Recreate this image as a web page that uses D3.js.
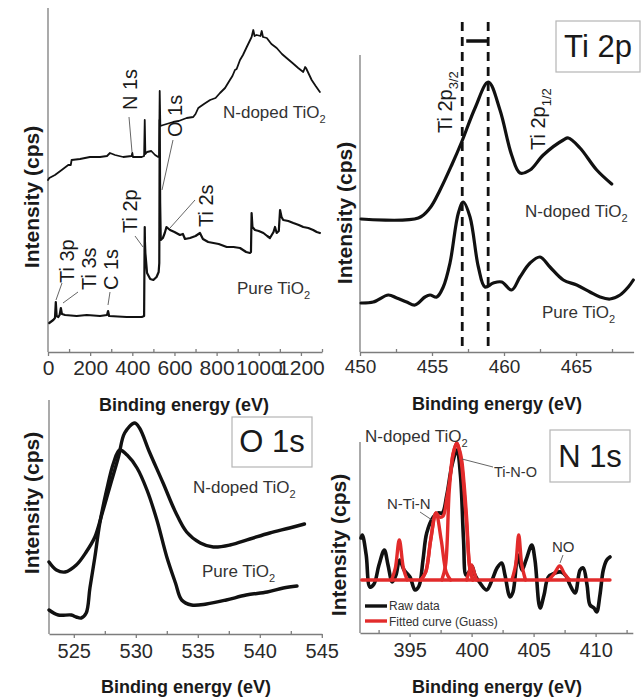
<!DOCTYPE html>
<html>
<head>
<meta charset="utf-8">
<script src="https://cdn.jsdelivr.net/npm/d3@7"></script>
<style>
  body { margin: 0; background: #fff; }
  svg { display: block; }
</style>
</head>
<body>
<svg id="fig" width="641" height="698"></svg>
<script>
// ---- data: [binding energy (eV), intensity (a.u.)] ----

// survey spectra (top left)
var surveyNdoped = [[0,172],[6,174],[33,177],[65,182],[96,187],[108,187],[112,192],[152,193],[199,195],[247,195],[280,196],[294,199],[318,197],[357,195],[397,196],[400,199],[403,195],[421,195],[445,195],[456,196],[459,232],[462,198],[470,200],[490,201],[508,197],[523,195],[527,196],[530,261],[533,226],[547,227],[594,230],[620,231],[658,234],[689,235],[700,238],[713,244],[740,248],[769,252],[795,254],[816,259],[840,264],[863,272],[875,276],[887,282],[895,283],[911,292],[925,297],[943,305],[966,315],[974,322],[980,316],[990,317],[1008,316],[1014,321],[1020,315],[1038,314],[1060,308],[1085,304],[1110,298],[1132,294],[1160,289],[1187,284],[1211,280],[1220,285],[1224,284],[1251,272],[1270,266],[1290,260]];
var surveyPure = [[6,29],[25,32],[33,34],[37,50],[41,36],[49,35],[55,37],[61,44],[66,38],[81,37],[136,36],[184,37],[247,36],[280,37],[285,41],[290,36],[373,35],[445,35],[456,36],[458,100],[459,125],[460,110],[462,99],[470,79],[485,73],[500,72],[515,75],[525,80],[528,89],[530,232],[532,150],[535,112],[545,114],[554,119],[562,125],[579,122],[600,120],[626,117],[640,118],[650,113],[674,114],[700,116],[721,119],[735,113],[760,110],[785,109],[810,108],[848,105],[880,105],[911,104],[940,100],[958,99],[963,100],[966,139],[970,125],[982,122],[1000,121],[1022,119],[1040,116],[1053,114],[1070,120],[1077,125],[1085,119],[1095,121],[1101,142],[1108,135],[1116,132],[1140,131],[1164,129],[1190,127],[1211,125],[1235,124],[1258,122],[1275,120],[1290,119]];

// Ti 2p (top right)
var ti2pNdoped = [[450.07,133],[454.05,134],[454.86,144],[455.56,162],[456.37,187],[457.06,210],[457.99,244],[458.91,270],[459.72,242],[460.53,197],[461.11,179],[461.81,182],[462.73,197],[464.12,212],[464.47,214],[465.28,204],[466.44,182],[467.48,168]];
var ti2pPure = [[450.07,49],[450.92,50],[451.97,57],[452.55,54],[453.24,50],[453.82,47],[454.51,55],[454.86,57],[455.33,55],[455.78,65],[456.25,89],[456.83,139],[457.17,150],[457.64,135],[458.22,85],[458.68,65],[459.26,69],[459.84,70],[460.53,62],[461.11,75],[461.81,89],[462.5,95],[463.19,85],[464.12,72],[465.05,67],[465.97,60],[466.67,55],[467.36,53],[468.06,57],[468.63,65],[468.98,72]];
var ti2pPeaks = [457.1, 458.9];   // dashed guide lines

// O 1s (bottom left)
var o1sNdoped = [[523.0,72],[523.6,64],[524.3,62],[525.2,69],[526.0,82],[526.7,97],[527.25,119],[527.9,147],[528.6,177],[529.1,201],[529.9,211],[530.3,206],[531.1,182],[532.2,151],[533.2,122],[534.1,102],[535.2,91],[536.25,87],[537.6,89],[539.2,95],[540.8,101],[542.4,106],[543.6,110]];
var o1sPure = [[523.0,24],[523.75,19],[524.8,19],[525.2,17],[525.6,16],[526.0,21],[526.3,46],[526.7,77],[527.1,111],[527.65,144],[528.2,171],[528.7,184],[529.3,179],[530.1,166],[530.9,144],[531.7,114],[532.5,77],[533.2,51],[533.7,34],[534.5,29],[535.7,30],[537.3,34],[538.9,39],[540.6,42],[541.9,46],[543.0,48]];

// N 1s (bottom right)
var n1sRaw = [[391.08,42],[391.19,45],[391.5,25],[391.8,-7],[392.13,-4],[392.53,15],[392.96,30],[393.26,15],[393.6,-2],[393.9,5],[394.19,20],[394.55,10],[395.03,3],[395.44,-10],[395.76,-6],[396.08,20],[396.38,47],[396.91,63],[397.31,67],[397.64,67],[398.0,85],[398.42,115],[398.82,130],[399.1,105],[399.35,40],[399.55,5],[399.79,8],[400.03,14],[400.27,5],[400.68,-3],[401.22,-10],[401.65,0],[402.05,12],[402.43,17],[402.69,5],[403.1,-17],[403.34,-12],[403.74,25],[404.06,10],[404.39,20],[404.85,35],[405.11,20],[405.52,-28],[405.84,-15],[406.19,3],[406.73,7],[407.21,8],[407.61,4],[407.94,-5],[408.35,-13],[408.75,10],[409.0,12],[409.31,-5],[409.55,-25],[409.87,-28],[410.09,-32],[410.35,-15],[410.62,10],[410.9,20],[411.16,23]];
var n1sBaseline = [[391.14,0],[411.16,0]];
var n1sPeakA = [[393.55,0],[393.85,12],[394.17,40],[394.5,12],[394.8,0]];
var n1sPeakNTiN = [[395.9,0],[396.3,8],[396.7,40],[397.13,67],[397.55,40],[397.95,8],[398.3,0]];
var n1sPeakTiNO = [[397.6,0],[397.9,15],[398.2,90],[398.5,125],[398.8,137],[399.0,130],[399.2,115],[399.6,55],[399.85,12],[400.1,0]];
var n1sPeakD = [[399.6,0],[399.8,8],[400.0,15],[400.2,8],[400.4,0]];
var n1sPeakE = [[403.25,0],[403.55,15],[403.8,45],[404.05,15],[404.35,0]];
var n1sPeakNO = [[406.2,0],[406.65,6],[407.1,14],[407.5,6],[407.9,0]];
var n1sEnvelope = [[395.9,0],[396.3,8],[396.7,40],[397.13,67],[397.4,63],[397.7,64],[398.0,82],[398.26,102],[398.5,126],[398.8,137],[399.0,131],[399.2,120],[399.4,95],[399.6,62],[399.85,13],[400.1,0]];

// tick values
var surveyTicks = [0, 200, 400, 600, 800, 1000, 1200];
var surveyMinor = [100, 300, 500, 700, 900, 1100, 1300];
var ti2pTicks = [450, 455, 460, 465];
var ti2pMinor = [452.5, 457.5, 462.5, 467.5];
var o1sTicks = [525, 530, 535, 540, 545];
var o1sMinor = [527.5, 532.5, 537.5, 542.5];
var n1sTicks = [395, 400, 405, 410];
var n1sMinor = [392.5, 397.5, 402.5, 407.5, 412.5];

// --------------------------------------------------
var FONT = '"Liberation Sans", Arial, Helvetica, sans-serif';
var AXIS = "#7d7d7d";
var RED = "#e22b2b";

var svg = d3.select("#fig");

// x axis with labelled ticks going down and small minor ticks going up
function bottomAxis(x, yPos, major, minor, size, pad) {
    var g = svg.append("g")
        .attr("transform", "translate(0," + yPos + ")")
        .call(d3.axisBottom(x).tickValues(major).tickSize(4)
            .tickSizeOuter(0).tickPadding(pad).tickFormat(d3.format("d")));
    g.select(".domain").attr("stroke", AXIS).attr("stroke-width", 1.3);
    g.selectAll(".tick line").attr("stroke", AXIS).attr("stroke-width", 1.3);
    g.selectAll(".tick text")
        .attr("fill", "#2a2a2a")
        .attr("font-size", size)
        .attr("font-family", FONT);

    var m = svg.append("g")
        .attr("transform", "translate(0," + yPos + ")")
        .call(d3.axisBottom(x).tickValues(minor).tickSize(-3).tickFormat(""));
    m.select(".domain").remove();
    m.selectAll(".tick line").attr("stroke", AXIS).attr("stroke-width", 1.3);
}

function leftLine(x, y) {
    svg.append("line")
        .attr("x1", x.range()[0]).attr("x2", x.range()[0])
        .attr("y1", y.range()[1]).attr("y2", y.range()[0])
        .attr("stroke", AXIS).attr("stroke-width", 1.3);
}

function plotLine(data, x, y, curve, color, width) {
    var line = d3.line()
        .x(function(d) { return x(d[0]); })
        .y(function(d) { return y(d[1]); })
        .curve(curve);
    svg.append("path")
        .datum(data)
        .attr("d", line)
        .attr("fill", "none")
        .attr("stroke", color)
        .attr("stroke-width", width)
        .attr("stroke-linejoin", "round")
        .attr("stroke-linecap", "round");
}

function label(x, y, str, size, opts) {
    opts = opts || {};
    var t = svg.append("text")
        .attr("font-family", FONT)
        .attr("font-size", size)
        .attr("fill", opts.fill || "#1a1a1a")
        .attr("font-weight", opts.bold ? "bold" : "normal")
        .attr("text-anchor", opts.anchor || "start")
        .attr("transform", "translate(" + x + "," + y + ")" + (opts.rot ? " rotate(-90)" : ""))
        .text(str);
    if (opts.sub) {
        t.append("tspan")
            .attr("font-size", size * 0.65)
            .attr("dy", size * 0.28)
            .text(opts.sub);
    }
    return t;
}

function pointer(x1, y1, x2, y2) {
    svg.append("line")
        .attr("x1", x1).attr("y1", y1).attr("x2", x2).attr("y2", y2)
        .attr("stroke", "#555").attr("stroke-width", 0.9);
}

function boxTitle(x, y, w, h, str) {
    svg.append("rect")
        .attr("x", x).attr("y", y).attr("width", w).attr("height", h)
        .attr("fill", "#fff").attr("stroke", "#b5b5b5").attr("stroke-width", 1.2);
    label(x + w / 2, y + h - 15, str, 31, { anchor: "middle" });
}

// ---------------- top left: survey ----------------
var x1 = d3.scaleLinear().domain([0, 1300]).range([48, 322]);
var y1 = d3.scaleLinear().domain([0, 344]).range([352, 8]);

leftLine(x1, y1);
bottomAxis(x1, 352, surveyTicks, surveyMinor, 21, 4);
plotLine(surveyNdoped, x1, y1, d3.curveLinear, "#111", 1.8);
plotLine(surveyPure, x1, y1, d3.curveLinear, "#111", 2.2);

label(137, 110, "N 1s", 20, { rot: true });
label(182, 137, "O 1s", 20, { rot: true });
label(213, 227, "Ti 2s", 20, { rot: true });
label(137, 233, "Ti 2p", 20, { rot: true });
label(74, 283, "Ti 3p", 20, { rot: true });
label(96, 290, "Ti 3s", 20, { rot: true });
label(118, 290, "C 1s", 20, { rot: true });
pointer(129, 117, 132, 152);
pointer(173, 140, 162, 190);
pointer(195, 200, 170, 228);
pointer(135, 236, 143, 247);
pointer(62, 283, 56, 300);
pointer(78, 292, 63, 303);
pointer(110, 292, 108, 305);

label(223, 118, "N-doped TiO", 17, { sub: "2", fill: "#333" });
label(237, 294, "Pure TiO", 17, { sub: "2", fill: "#333" });

label(0, 0, "Intensity (cps)", 21, { bold: true, anchor: "middle" })
    .attr("transform", "translate(39,197) rotate(-90)");
label(184, 411, "Binding energy (eV)", 18, { bold: true, anchor: "middle" });

// ---------------- top right: Ti 2p ----------------
var x2 = d3.scaleLinear().domain([450, 469]).range([360, 633.6]);
var y2 = d3.scaleLinear().domain([0, 297]).range([352, 55]);

leftLine(x2, y2);
bottomAxis(x2, 352, ti2pTicks, ti2pMinor, 19, 4);

svg.selectAll(".peakline")
    .data(ti2pPeaks)
    .enter()
    .append("line")
    .attr("class", "peakline")
    .attr("x1", function(d) { return x2(d); })
    .attr("x2", function(d) { return x2(d); })
    .attr("y1", 22).attr("y2", 352)
    .attr("stroke", "#111").attr("stroke-width", 2.8)
    .attr("stroke-dasharray", "9,6");

// spin-orbit shift bar between the two guide lines
svg.append("line")
    .attr("x1", x2(ti2pPeaks[0]) + 4).attr("x2", x2(ti2pPeaks[1]) - 1)
    .attr("y1", 41).attr("y2", 41)
    .attr("stroke", "#111").attr("stroke-width", 3.5);

plotLine(ti2pNdoped, x2, y2, d3.curveCatmullRom, "#111", 3.2);
plotLine(ti2pPure, x2, y2, d3.curveCatmullRom, "#111", 3.2);

label(452, 133, "Ti 2p", 20, { rot: true, sub: "3/2" });
label(545, 150, "Ti 2p", 20, { rot: true, sub: "1/2" });
label(525, 217, "N-doped TiO", 17, { sub: "2", fill: "#333" });
label(542, 318, "Pure TiO", 17, { sub: "2", fill: "#333" });
boxTitle(556, 21, 84, 51, "Ti 2p");

label(0, 0, "Intensity (cps)", 21, { bold: true, anchor: "middle" })
    .attr("transform", "translate(352,213) rotate(-90)");
label(497, 410, "Binding energy (eV)", 18, { bold: true, anchor: "middle" });

// ---------------- bottom left: O 1s ----------------
var x3 = d3.scaleLinear().domain([523, 545]).range([49, 321.8]);
var y3 = d3.scaleLinear().domain([0, 234]).range([634, 400]);

leftLine(x3, y3);
bottomAxis(x3, 634, o1sTicks, o1sMinor, 20, 6);
plotLine(o1sNdoped, x3, y3, d3.curveCatmullRom, "#111", 3.4);
plotLine(o1sPure, x3, y3, d3.curveCatmullRom, "#111", 3.4);

boxTitle(232, 417, 80, 50, "O 1s");
label(193, 493, "N-doped TiO", 17, { sub: "2", fill: "#333" });
label(202, 577, "Pure TiO", 17, { sub: "2", fill: "#333" });

label(0, 0, "Intensity (cps)", 21, { bold: true, anchor: "middle" })
    .attr("transform", "translate(39,503) rotate(-90)");
label(186, 693, "Binding energy (eV)", 18, { bold: true, anchor: "middle" });

// ---------------- bottom right: N 1s ----------------
var x4 = d3.scaleLinear().domain([391, 413]).range([360, 632.8]);
var y4 = d3.scaleLinear().domain([-53, 138]).range([633, 442]);

leftLine(x4, y4);
bottomAxis(x4, 633, n1sTicks, n1sMinor, 20, 6);

plotLine(n1sRaw, x4, y4, d3.curveCatmullRom, "#111", 3.6);
[n1sBaseline, n1sPeakA, n1sPeakNTiN, n1sPeakTiNO, n1sPeakD, n1sPeakE, n1sPeakNO, n1sEnvelope]
    .forEach(function(p) {
        plotLine(p, x4, y4, d3.curveCatmullRom, RED, 3.4);
    });

label(365, 442, "N-doped TiO", 17, { sub: "2", fill: "#333" });
label(387, 509, "N-Ti-N", 15, { fill: "#333" });
pointer(420, 512, 432, 520);
label(494, 477, "Ti-N-O", 14.5, { fill: "#333" });
pointer(493, 467, 462, 459);
label(552, 552, "NO", 15, { fill: "#333" });
pointer(563, 555, 560, 563);
boxTitle(550, 430, 80, 52, "N 1s");

// legend
svg.append("line").attr("x1", 365).attr("x2", 387).attr("y1", 606).attr("y2", 606)
    .attr("stroke", "#111").attr("stroke-width", 3.4);
label(389, 610, "Raw data", 12, { fill: "#333" });
svg.append("line").attr("x1", 365).attr("x2", 387).attr("y1", 621).attr("y2", 621)
    .attr("stroke", RED).attr("stroke-width", 3.4);
label(389, 626, "Fitted curve (Guass)", 12, { fill: "#333" });

label(0, 0, "Intensity (cps)", 21, { bold: true, anchor: "middle" })
    .attr("transform", "translate(346,545) rotate(-90)");
label(497, 693, "Binding energy (eV)", 18, { bold: true, anchor: "middle" });
</script>
</body>
</html>
